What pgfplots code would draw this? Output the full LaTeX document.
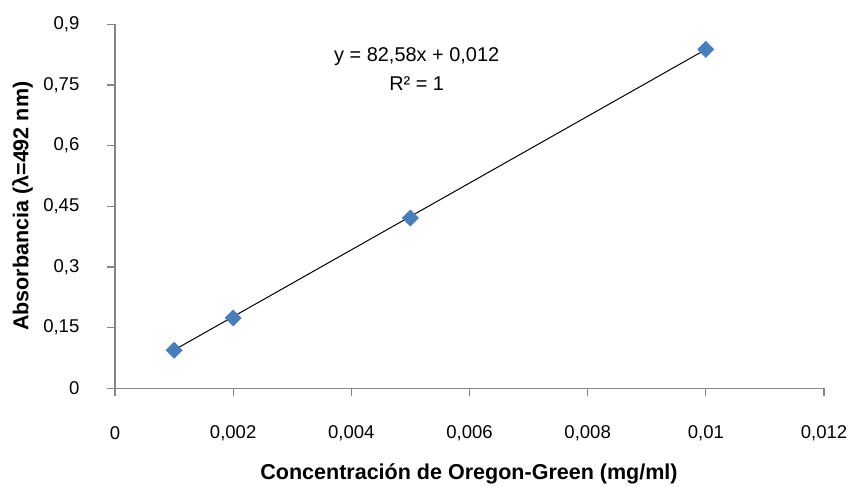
\documentclass[border=0pt]{standalone}
\usepackage{fontspec}
\setmainfont{Liberation Sans}
\usepackage{pgfplots}
\pgfplotsset{compat=1.18}
\definecolor{ptblue}{HTML}{4A7EBB}
\definecolor{axgray}{HTML}{868686}
\begin{document}
\begin{tikzpicture}
\begin{axis}[
  scale only axis,
  width=354.5bp, height=182bp,
  xmin=0, xmax=0.012, ymin=0, ymax=0.9,
  axis x line=bottom, axis y line=left,
  axis line style={-, draw=axgray, line width=0.65bp},
  scaled x ticks=false, scaled y ticks=false,
  xtick={0,0.002,0.004,0.006,0.008,0.01,0.012},
  xticklabels={0,{0,002},{0,004},{0,006},{0,008},{0,01},{0,012}},
  ytick={0,0.15,0.3,0.45,0.6,0.75,0.9},
  yticklabels={0,{0,15},{0,3},{0,45},{0,6},{0,75},{0,9}},
  tick align=outside,
  major tick length=3.8bp,
  tick style={draw=axgray, line width=0.65bp},
  /pgf/number format/assume math mode=true,
  tick label style={font=\fontsize{9.3}{10}\selectfont},
  xticklabel style={anchor=center, yshift=-18.8bp},
  xticklabel shift=0pt,
  yticklabel style={anchor=east, xshift=-10.5bp},
  clip=false,
]
\addplot[black, line width=0.5bp] coordinates {(0.001,0.09458) (0.01,0.8378)};
\addplot[only marks, mark=square*, mark size=2.8bp,
  mark options={rotate=45, fill=ptblue, draw=ptblue}]
  coordinates {(0.001,0.094) (0.002,0.174) (0.005,0.421) (0.01,0.838)};
\node[font=\fontsize{10}{12}\selectfont, align=center] at (rel axis cs:0.4255,0.911) {y = 82,58x + 0,012};
\node[font=\fontsize{10}{12}\selectfont] at (rel axis cs:0.4255,0.838) {R² = 1};
\node[font=\bfseries\fontsize{10.8}{13}\selectfont] at (177bp,-42.7bp) {Concentración de Oregon-Green (mg/ml)};
\node[font=\bfseries\fontsize{10.8}{13}\selectfont, rotate=90] at (-46.25bp,91bp) {Absorbancia (λ=492 nm)};
\end{axis}
\pgfresetboundingbox
\path (-57.5bp,-49.35bp) rectangle (367bp,194.15bp);
\end{tikzpicture}
\end{document}
